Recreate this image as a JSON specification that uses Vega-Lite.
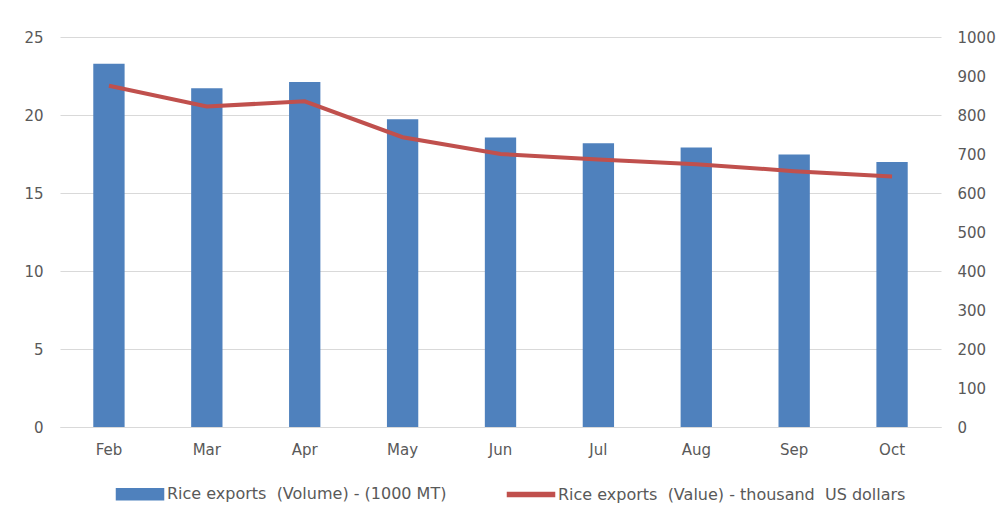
{
  "$schema": "https://vega.github.io/schema/vega-lite/v6.json",
  "width": 881,
  "height": 390,
  "autosize": {"type": "none"},
  "padding": {"left": 60, "top": 37, "right": 63, "bottom": 93},
  "background": "white",
  "data": {
    "values": [
      {"month": "Feb", "volume": 23.28, "value": 875},
      {"month": "Mar", "volume": 21.72, "value": 822},
      {"month": "Apr", "volume": 22.11, "value": 835},
      {"month": "May", "volume": 19.73, "value": 743},
      {"month": "Jun", "volume": 18.55, "value": 700},
      {"month": "Jul", "volume": 18.19, "value": 686},
      {"month": "Aug", "volume": 17.91, "value": 674},
      {"month": "Sep", "volume": 17.46, "value": 656},
      {"month": "Oct", "volume": 16.98, "value": 642}
    ]
  },
  "config": {
    "font": "DejaVu Sans",
    "view": {"stroke": null},
    "axis": {
      "labelColor": "#595959",
      "labelFontSize": 15,
      "ticks": false,
      "domain": false,
      "gridColor": "#d9d9d9",
      "title": null
    },
    "legend": {
      "labelColor": "#595959",
      "labelFontSize": 16,
      "title": null
    }
  },
  "encoding": {
    "x": {
      "field": "month",
      "type": "nominal",
      "sort": null,
      "scale": {"paddingInner": 0.68, "paddingOuter": 0.34},
      "axis": {"labelAngle": 0, "labelPadding": 15, "domain": true, "domainColor": "#d9d9d9", "grid": false}
    }
  },
  "layer": [
    {
      "mark": {"type": "bar"},
      "encoding": {
        "y": {
          "field": "volume",
          "type": "quantitative",
          "scale": {"domain": [0, 25]},
          "axis": {"values": [0, 5, 10, 15, 20, 25], "labelPadding": 17, "grid": true}
        },
        "color": {
          "datum": "Rice exports (Volume) - (1000 MT)",
          "type": "nominal",
          "scale": {
            "domain": ["Rice exports (Volume) - (1000 MT)", "Rice exports (Value) - thousand US dollars"],
            "range": ["#4F81BD", "#C0504D"]
          },
          "legend": {
            "orient": "none",
            "legendX": 54,
            "legendY": 449,
            "direction": "horizontal",
            "symbolSize": 121,
            "labelOffset": 37,
            "labelLimit": 0,
            "columnPadding": 57,
            "labelExpr": "replace(replace(datum.label, 'exports ', 'exports\u00a0 '), 'thousand ', 'thousand\u00a0 ')",
            "encode": {
              "symbols": {
                "update": {
                  "shape": {"signal": "datum.value === 'Rice exports (Volume) - (1000 MT)' ? 'M-1,-1H7.55V1H-1Z' : 'M-1,-0.36H7.55V0.36H-1Z'"},
                  "fill": {"scale": "color", "field": "value"},
                  "stroke": {"value": "transparent"},
                  "opacity": {"value": 1},
                  "fillOpacity": {"value": 1}
                }
              }
            }
          }
        }
      }
    },
    {
      "mark": {"type": "line", "strokeWidth": 4},
      "encoding": {
        "y": {
          "field": "value",
          "type": "quantitative",
          "scale": {"domain": [0, 1000]},
          "axis": {"orient": "right", "values": [0, 100, 200, 300, 400, 500, 600, 700, 800, 900, 1000], "format": "d", "labelPadding": 16, "grid": false}
        },
        "color": {"datum": "Rice exports (Value) - thousand US dollars", "type": "nominal"}
      }
    }
  ],
  "resolve": {"scale": {"y": "independent"}}
}
